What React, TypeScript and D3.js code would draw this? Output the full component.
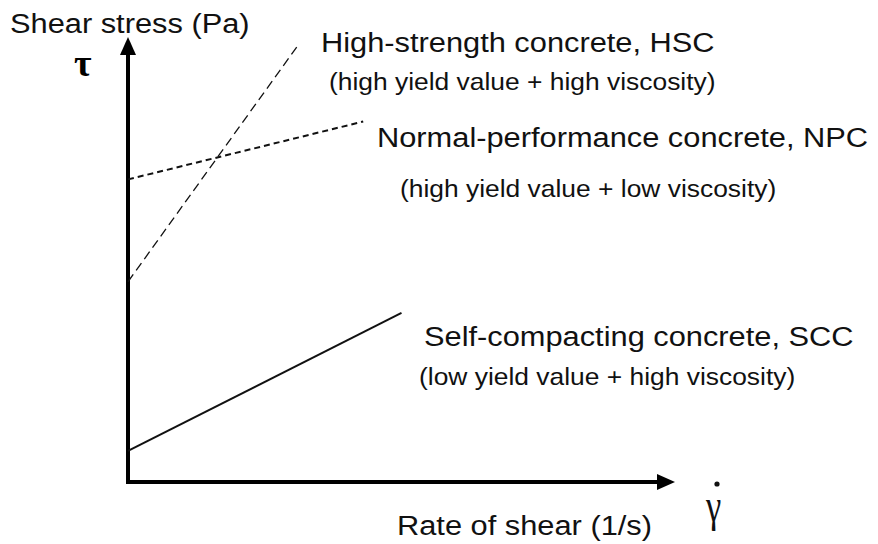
import React, { useEffect, useRef } from 'react';
import * as d3 from 'd3';

// flow curves, in arbitrary units: [shear rate, shear stress]
const hscPoints: [number, number][] = [[0, 45], [31, 98]];
const npcPoints: [number, number][] = [[0, 68], [43, 81]];
const sccPoints: [number, number][] = [[0, 7], [50, 38]];

const curveNames = ['High-strength concrete, HSC', 'Normal-performance concrete, NPC', 'Self-compacting concrete, SCC'];
const curveNotes = ['(high yield value + high viscosity)', '(high yield value + low viscosity)', '(low yield value + high viscosity)'];

const yAxisLabel = 'Shear stress (Pa)';
const xAxisLabel = 'Rate of shear (1/s)';
const tauSymbol = 'τ';
const gammaSymbol = 'γ';

const W = 878;
const H = 544;

function App() {
    const svgRef = useRef<SVGSVGElement>(null);

    useEffect(() => {
        const svg = d3.select(svgRef.current);
        svg.selectAll('*').remove();

        const x = d3.scaleLinear().domain([0, 100]).range([128, 675]);
        const y = d3.scaleLinear().domain([0, 100]).range([482, 37]);

        svg.append('rect').attr('width', W).attr('height', H).attr('fill', '#fff');

        // axes with arrow heads
        const axes = svg.append('g');
        axes.append('line')
            .attr('x1', x(0)).attr('y1', y(0) + 2)
            .attr('x2', x(0)).attr('y2', y(100) + 16)
            .attr('stroke', '#000').attr('stroke-width', 4);
        axes.append('path')
            .attr('d', `M${x(0)},${y(100)} L${x(0) - 8},${y(100) + 18} L${x(0) + 8},${y(100) + 18} Z`)
            .attr('fill', '#000');
        axes.append('line')
            .attr('x1', x(0) - 2).attr('y1', y(0))
            .attr('x2', x(100) - 16).attr('y2', y(0))
            .attr('stroke', '#000').attr('stroke-width', 4);
        axes.append('path')
            .attr('d', `M${x(100)},${y(0)} L${x(100) - 18},${y(0) - 8} L${x(100) - 18},${y(0) + 8} Z`)
            .attr('fill', '#000');

        const line = d3.line<[number, number]>()
            .x(d => x(d[0]))
            .y(d => y(d[1]));

        svg.append('path').datum(hscPoints)
            .attr('d', line).attr('fill', 'none')
            .attr('stroke', '#111').attr('stroke-width', 1.3)
            .attr('stroke-dasharray', '9,5');
        svg.append('path').datum(npcPoints)
            .attr('d', line).attr('fill', 'none')
            .attr('stroke', '#111').attr('stroke-width', 2)
            .attr('stroke-dasharray', '6,4');
        svg.append('path').datum(sccPoints)
            .attr('d', line).attr('fill', 'none')
            .attr('stroke', '#111').attr('stroke-width', 2);

        // text is a bit wider than plain Arial in the original
        const label = (txt: string, lx: number, ly: number, size: number) => {
            svg.append('text')
                .attr('transform', `translate(${lx},${ly}) scale(1.1,1)`)
                .attr('font-family', '"Liberation Sans", Arial, sans-serif')
                .attr('font-size', size)
                .attr('fill', '#111')
                .text(txt);
        };

        label(yAxisLabel, 10, 33, 28);
        label(xAxisLabel, 397, 535, 28);

        const titlePos = [[321, 52], [377, 147], [424, 346]];
        const notePos = [[329, 90], [400, 197], [419, 385]];
        curveNames.forEach((n, i) => label(n, titlePos[i][0], titlePos[i][1], 28));
        curveNotes.forEach((n, i) => label(n, notePos[i][0], notePos[i][1], 24));

        svg.append('text')
            .attr('x', 74).attr('y', 76)
            .attr('font-family', '"Liberation Serif", "Times New Roman", serif')
            .attr('font-weight', 'bold')
            .attr('font-size', 38)
            .attr('fill', '#000')
            .text(tauSymbol);

        svg.append('text')
            .attr('transform', `translate(706,521) scale(0.75,1)`)
            .attr('font-family', '"Liberation Serif", "Times New Roman", serif')
            .attr('font-size', 46)
            .attr('fill', '#111')
            .text(gammaSymbol);
        svg.append('circle')
            .attr('cx', 717).attr('cy', 484).attr('r', 2.6)
            .attr('fill', '#111');
    }, []);

    return (
        <svg ref={svgRef} width={W} height={H}
            style={{ position: 'absolute', left: 0, top: 0, display: 'block' }} />
    );
}

export default App;
